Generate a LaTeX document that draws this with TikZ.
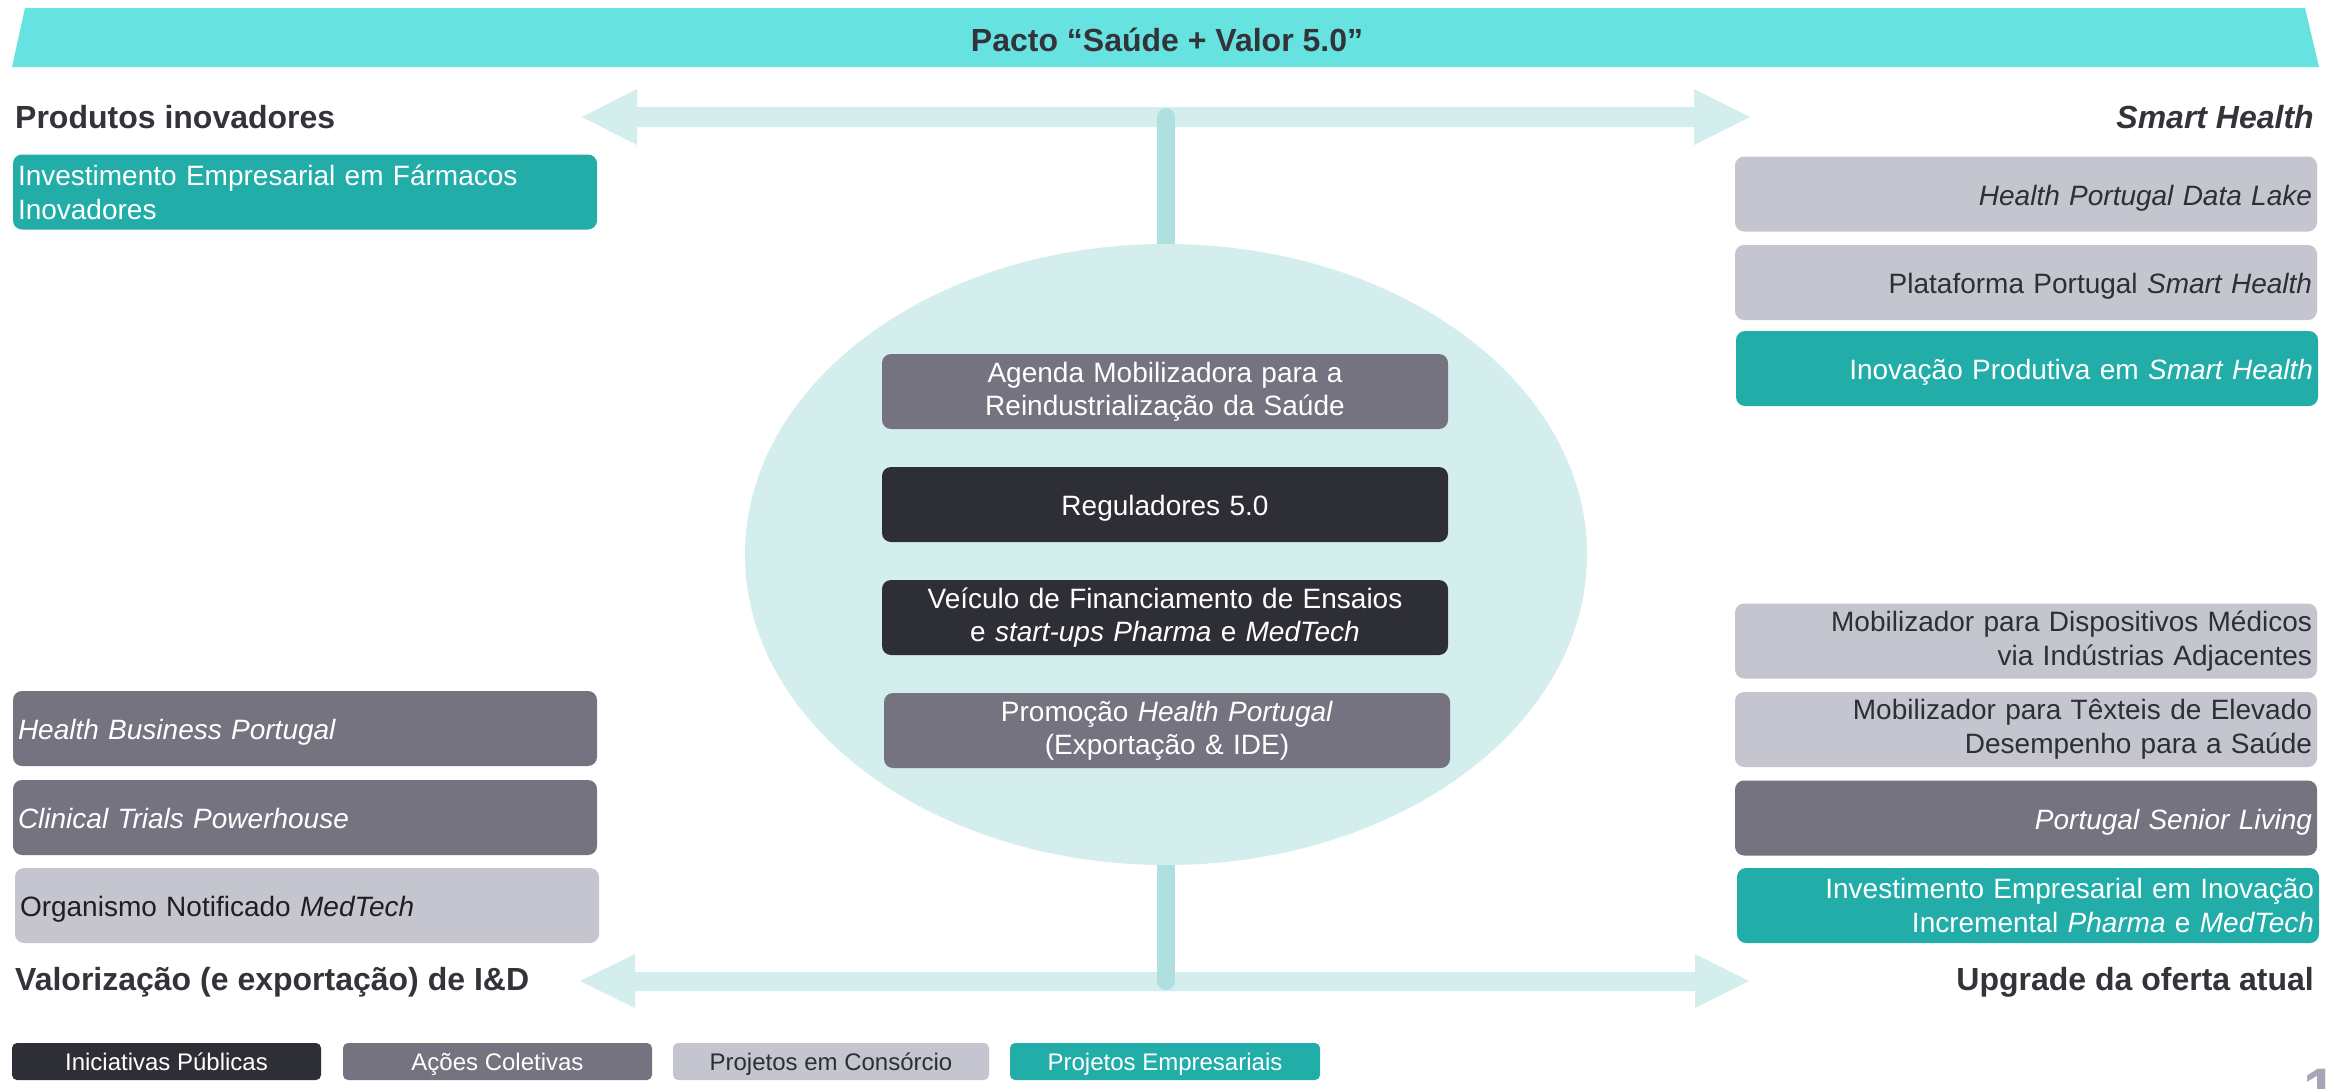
\documentclass[tikz,border=0pt]{standalone}
\usepackage{fontspec}
\setmainfont{Liberation Sans}
\usetikzlibrary{shapes.geometric}
\definecolor{tealc}{HTML}{22ADA9}
\definecolor{dgrey}{HTML}{74737F}
\definecolor{lgrey}{HTML}{C5C5CF}
\definecolor{darkc}{HTML}{2E2E36}
\definecolor{lightc}{HTML}{D4EEEE}
\definecolor{stemc}{HTML}{AEE0DF}
\definecolor{bannerc}{HTML}{66E3E0}
\definecolor{txtd}{HTML}{333339}
\definecolor{pagec}{HTML}{A6A6B8}
\begin{document}
\begin{tikzpicture}[x=1pt,y=-1pt,
  box/.style={rounded corners=9pt, minimum height=75pt, inner xsep=5pt, inner ysep=0pt,
    font=\fontsize{28}{34}\selectfont},
  oneline/.style={text height=25pt, text depth=3pt},
  lbox/.style={box, text width=574pt, align=left},
  rbox/.style={box, text width=572pt, align=right},
  cbox/.style={box, text width=556pt, align=center, font=\fontsize{28}{33}\selectfont},
  pub/.style={fill=darkc, text=white},
  col/.style={fill=dgrey, text=white},
  cons/.style={fill=lgrey, text=darkc},
  emp/.style={fill=tealc, text=white},
  leg/.style={rounded corners=5pt, minimum height=37pt, inner sep=0pt,
    text height=20pt, text depth=3pt, font=\fontsize{24}{28}\selectfont},
  hdr/.style={inner sep=0pt, text=txtd, font=\fontsize{32}{38}\selectfont\bfseries},
  bigarrow/.style={fill=lightc}
]
\clip (0,0) rectangle (2331,1088);
\fill[white] (0,0) rectangle (2331,1088);

% banner
\fill[bannerc] (25,8) -- (2305,8) -- (2319,67) -- (12,67) -- cycle;
\node[hdr] (title) at (1167,40) {Pacto “Saúde + Valor 5.0”};

% big double arrows
\fill[bigarrow] (582,117) -- (637,89) -- (637,107) -- (1694,107) -- (1694,89) -- (1750,117)
  -- (1694,145) -- (1694,127) -- (637,127) -- (637,145) -- cycle;
\fill[bigarrow] (580,981) -- (635,954) -- (635,972) -- (1695,972) -- (1695,954) -- (1749,981)
  -- (1695,1008) -- (1695,991) -- (635,991) -- (635,1008) -- cycle;

% stems
\coordinate (ttop) at (1166,117);
\coordinate (tbot) at (1166,320);
\coordinate (btop) at (1166,800);
\coordinate (bbot) at (1166,981);
\draw[stemc, line width=18pt, line cap=round] (ttop) -- (tbot);
\draw[stemc, line width=18pt, line cap=round] (btop) -- (bbot);

% hub ellipse
\node[ellipse, fill=lightc, minimum width=842pt, minimum height=621pt, inner sep=0pt] (hub) at (1166,554.5) {};

% headers
\node[hdr, anchor=west] (hprod) at (15,117) {Produtos inovadores};
\node[hdr, anchor=east] (hsmart) at (2314,117) {\textit{Smart Health}};
\node[hdr, anchor=west] (hval) at (15,982) {Valorização (e exportação) de I\&D};
\node[hdr, anchor=east] (hupg) at (2314,982) {Upgrade da oferta atual};

% left boxes
\node[lbox, emp] (l1) at (305,192) {Investimento Empresarial em Fármacos\\Inovadores};
\node[lbox, col, oneline] (l2) at (305,728.5) {\textit{Health Business Portugal}};
\node[lbox, col, oneline] (l3) at (305,817.5) {\textit{Clinical Trials Powerhouse}};
\node[lbox, cons, oneline, text=black!88] (l4) at (307,905.5) {Organismo Notificado \textit{MedTech}};

% center boxes
\node[cbox, col] (c1) at (1165,391.5) {Agenda Mobilizadora para a\\Reindustrialização da Saúde};
\node[cbox, pub, oneline] (c2) at (1165,504.5) {Reguladores 5.0};
\node[cbox, pub] (c3) at (1165,617.5) {Veículo de Financiamento de Ensaios\\e \textit{start-ups Pharma} e \textit{MedTech}};
\node[cbox, col] (c4) at (1167,730.5) {Promoção \textit{Health Portugal}\\(Exportação \& IDE)};

% right boxes
\node[rbox, cons, oneline] (r1) at (2026,194) {\textit{Health Portugal Data Lake}};
\node[rbox, cons, oneline] (r2) at (2026,282.5) {Plataforma Portugal \textit{Smart Health}};
\node[rbox, emp, oneline] (r3) at (2027,368.5) {Inovação Produtiva em \textit{Smart Health}};
\node[rbox, cons] (r4) at (2026,641) {Mobilizador para Dispositivos Médicos\\via Indústrias Adjacentes};
\node[rbox, cons] (r5) at (2026,729.5) {Mobilizador para Têxteis de Elevado\\Desempenho para a Saúde};
\node[rbox, col, oneline] (r6) at (2026,818) {\textit{Portugal Senior Living}};
\node[rbox, emp] (r7) at (2028,905.5) {Investimento Empresarial em Inovação\\Incremental \textit{Pharma} e \textit{MedTech}};

% legend
\node[leg, pub, minimum width=309pt] (g1) at (166.5,1061.5) {Iniciativas Públicas};
\node[leg, col, minimum width=309pt] (g2) at (497.5,1061.5) {Ações Coletivas};
\node[leg, cons, minimum width=316pt] (g3) at (831,1061.5) {Projetos em Consórcio};
\node[leg, emp, minimum width=310pt] (g4) at (1165,1061.5) {Projetos Empresariais};

% page number (cut off at the edge, as in the reference)
\node[anchor=base west, inner sep=0pt, text=pagec, font=\fontsize{60}{60}\selectfont\bfseries] (pg) at (2303,1110) {1};
\end{tikzpicture}
\end{document}
